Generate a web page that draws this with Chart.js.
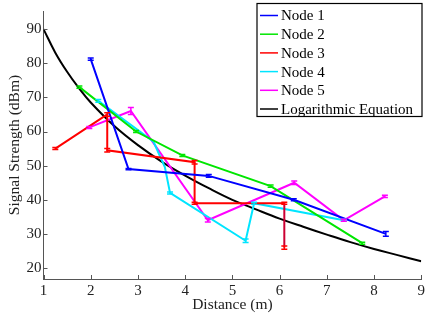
<!DOCTYPE html>
<html>
<head>
<meta charset="utf-8">
<script src="https://cdn.jsdelivr.net/npm/chart.js@4.4.0/dist/chart.umd.min.js"></script>
<style>
    body { margin: 0; background: #fff; }
    #wrap { width: 428px; height: 322px; }
</style>
</head>
<body>
<div id="wrap"><canvas id="signalChart" width="428" height="322"></canvas></div>
<script>
// values
const xTicks = [1, 2, 3, 4, 5, 6, 7, 8, 9];
const yTicks = [20, 30, 40, 50, 60, 70, 80, 90];

const node1X = [2.0, 2.8, 4.5, 6.3, 8.25];
const node1Y = [81.2, 49, 47, 40, 30];
const node1Err = [0.3, 0.2, 0.4, 0.3, 0.7];

const node2X = [1.76, 2.96, 3.94, 5.81, 7.75];
const node2Y = [73, 60, 53, 44, 27.3];
const node2Err = [0.3, 0.3, 0.3, 0.3, 0.3];

const node3X = [1.25, 2.35, 2.35, 4.2, 4.2, 6.1, 6.1];
const node3Y = [55, 65, 54.5, 51, 39, 39, 26];
const node3Err = [0.3, 0.5, 0.5, 0.5, 0.3, 0.3, 0.5];

const node4X = [2.16, 3.33, 3.57, 3.68, 5.28, 5.46, 7.36];
const node4Y = [69, 57, 49.6, 42, 28, 39, 34];
const node4Err = [0.4, 0, 0, 0.3, 0.5, 0.3, 0.3];

const node5X = [1.97, 2.85, 4.48, 6.31, 7.36, 8.23];
const node5Y = [61.2, 66, 34, 45, 34, 41];
const node5Err = [0.3, 1, 0.5, 0.5, 0.3, 0.3];

const logX = [1, 1.25, 1.5, 1.75, 2, 2.5, 3, 3.5, 4, 4.5, 5, 5.5, 6, 6.5, 7, 7.5, 8, 8.5, 9];
const logY = [90, 83.1, 77.5, 72.7, 68.5, 61.6, 56.0, 51.2, 47.1, 43.4, 40.0, 37.2, 34.5, 32.1, 29.8, 27.6, 25.6, 23.8, 22.0];

const FONT = 'Liberation Serif';

function toPoints(xs, ys) {
    return xs.map((x, i) => ({ x: x, y: ys[i] }));
}

function nodeSet(label, xs, ys, errs, color) {
    return {
        label: label,
        data: toPoints(xs, ys),
        errors: errs,
        borderColor: color,
        backgroundColor: color,
        borderWidth: 2,
        pointRadius: 0,
        showLine: true,
        tension: 0
    };
}

// small vertical error bars with caps
const errorBars = {
    id: 'errorBars',
    afterDatasetsDraw(chart) {
        const ctx = chart.ctx;
        const yScale = chart.scales.y;
        chart.data.datasets.forEach((ds, i) => {
            if (!ds.errors) return;
            const meta = chart.getDatasetMeta(i);
            ctx.save();
            ctx.strokeStyle = ds.borderColor;
            ctx.lineWidth = 1.5;
            meta.data.forEach((pt, j) => {
                const e = ds.errors[j];
                if (!e) return;
                const v = ds.data[j].y;
                const top = yScale.getPixelForValue(v + e);
                const bot = yScale.getPixelForValue(v - e);
                ctx.beginPath();
                ctx.moveTo(pt.x, top); ctx.lineTo(pt.x, bot);
                ctx.moveTo(pt.x - 3, top); ctx.lineTo(pt.x + 3, top);
                ctx.moveTo(pt.x - 3, bot); ctx.lineTo(pt.x + 3, bot);
                ctx.stroke();
            });
            ctx.restore();
        });
    }
};

// inward tick marks, matlab style
const innerTicks = {
    id: 'innerTicks',
    afterDraw(chart) {
        const ctx = chart.ctx;
        const area = chart.chartArea;
        ctx.save();
        ctx.strokeStyle = '#555';
        ctx.lineWidth = 1;
        ctx.beginPath();
        xTicks.forEach(t => {
            const px = Math.round(chart.scales.x.getPixelForValue(t)) + 0.5;
            ctx.moveTo(px, area.bottom); ctx.lineTo(px, area.bottom - 4);
        });
        yTicks.forEach(t => {
            const py = Math.round(chart.scales.y.getPixelForValue(t)) + 0.5;
            ctx.moveTo(area.left, py); ctx.lineTo(area.left + 4, py);
        });
        ctx.stroke();
        ctx.restore();
    }
};

// boxed legend in the top right corner
const boxLegend = {
    id: 'boxLegend',
    afterDraw(chart) {
        const ctx = chart.ctx;
        const left = 257, top = 3.5, w = 165, h = 113;
        ctx.save();
        ctx.fillStyle = '#fff';
        ctx.fillRect(left, top, w, h);
        ctx.strokeStyle = '#000';
        ctx.lineWidth = 1.2;
        ctx.strokeRect(left, top, w, h);
        ctx.font = '15px "' + FONT + '"';
        ctx.textBaseline = 'middle';
        ctx.textAlign = 'left';
        chart.data.datasets.forEach((ds, i) => {
            const y = 15.5 + i * 18.7;
            ctx.strokeStyle = ds.borderColor;
            ctx.lineWidth = 1.5;
            ctx.beginPath();
            ctx.moveTo(260, y); ctx.lineTo(278, y);
            ctx.stroke();
            ctx.fillStyle = '#000';
            ctx.fillText(ds.label, 281, y + 1);
        });
        ctx.restore();
    }
};

const datasets = [
    nodeSet('Node 1', node1X, node1Y, node1Err, '#0000ff'),
    nodeSet('Node 2', node2X, node2Y, node2Err, '#00e600'),
    nodeSet('Node 3', node3X, node3Y, node3Err, '#ff0000'),
    nodeSet('Node 4', node4X, node4Y, node4Err, '#00e5ff'),
    nodeSet('Node 5', node5X, node5Y, node5Err, '#ff00ff'),
    {
        label: 'Logarithmic Equation',
        data: toPoints(logX, logY),
        borderColor: '#000',
        backgroundColor: '#000',
        borderWidth: 2,
        pointRadius: 0,
        showLine: true,
        tension: 0.4
    }
];

// last red segment shows darker in the picture
datasets[2].segment = {
    borderColor: c => c.p0DataIndex === 5 ? '#cc0033' : undefined
};

new Chart(document.getElementById('signalChart'), {
    type: 'scatter',
    data: { datasets: datasets },
    options: {
        responsive: false,
        animation: false,
        layout: { padding: { top: 0, right: 1.5, bottom: 0, left: 0 }, autoPadding: false },
        plugins: {
            legend: { display: false },
            tooltip: { enabled: false }
        },
        scales: {
            x: {
                type: 'linear',
                min: 1,
                max: 9,
                afterBuildTicks: s => { s.ticks = xTicks.map(v => ({ value: v })); },
                afterFit: s => { s.height = 43; },
                grid: { display: false, drawTicks: false },
                border: { display: true, color: '#555', width: 1 },
                ticks: {
                    color: '#222',
                    padding: 3,
                    maxRotation: 0,
                    font: { family: FONT, size: 15 }
                },
                title: {
                    display: true,
                    text: 'Distance (m)',
                    color: '#222',
                    font: { family: FONT, size: 15.5 },
                    padding: { top: 0, bottom: 8 }
                }
            },
            y: {
                type: 'linear',
                min: 16.8,
                max: 95.3,
                afterBuildTicks: s => { s.ticks = yTicks.map(v => ({ value: v })); },
                afterFit: s => { s.width = 43.5; },
                grid: { display: false, drawTicks: false },
                border: { display: true, color: '#555', width: 1 },
                ticks: {
                    color: '#222',
                    padding: 2,
                    font: { family: FONT, size: 15 }
                },
                title: {
                    display: true,
                    text: 'Signal Strength (dBm)',
                    color: '#222',
                    font: { family: FONT, size: 15.5 },
                    padding: { top: 6, bottom: 0 }
                }
            }
        }
    },
    plugins: [errorBars, innerTicks, boxLegend]
});
</script>
</body>
</html>
